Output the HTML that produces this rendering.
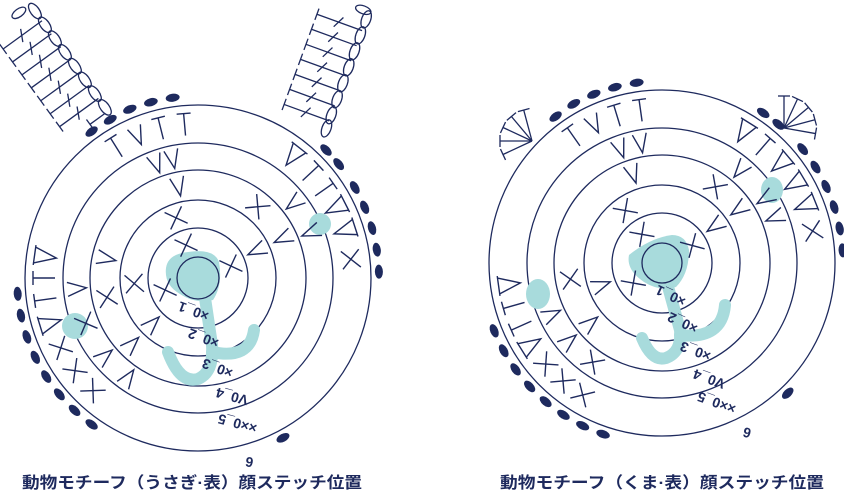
<!DOCTYPE html>
<html><head><meta charset="utf-8"><style>
html,body{margin:0;padding:0;background:#fff}
svg{display:block}
text{font-family:"Liberation Sans","Noto Sans CJK JP",sans-serif;fill:#1e2a5e}
</style></head><body>
<svg width="844" height="492" viewBox="0 0 844 492" xmlns="http://www.w3.org/2000/svg">
<defs>
<g id="x" stroke="#1e2a5e" stroke-width="1.4" fill="none"><line x1="-9" y1="-9" x2="9" y2="9"/><line x1="9" y1="-9" x2="-9" y2="9"/></g>
<g id="v" stroke="#1e2a5e" stroke-width="1.4" fill="none"><polyline points="-7,-10 0,9 7,-10"/></g>
<g id="t" stroke="#1e2a5e" stroke-width="1.4" fill="none"><line x1="0" y1="-11" x2="0" y2="11"/><line x1="-7" y1="-11" x2="7" y2="-11"/></g>
<g id="tri" stroke="#1e2a5e" stroke-width="1.4" fill="none"><polyline points="-8,-11 0,11 8,-11"/><line x1="-10" y1="-11" x2="10" y2="-11"/></g>
<ellipse id="d" rx="7" ry="4" fill="#1e2a5e"/>
<g id="earline" stroke="#1e2a5e" stroke-width="1.3" fill="none"><line x1="0" y1="0" x2="-48" y2="0"/><line x1="-48" y1="-6" x2="-48" y2="6"/><line x1="-22" y1="-6" x2="-28" y2="6"/></g>
<g id="chain"><ellipse rx="4.5" ry="9" fill="none" stroke="#1e2a5e" stroke-width="1.3"/></g>
<g id="ray" stroke="#1e2a5e" stroke-width="1.3"><line x1="0" y1="0" x2="0" y2="-32"/><line x1="-6" y1="-32" x2="6" y2="-32"/></g>
</defs>

<!-- LEFT DIAGRAM -->
<g fill="none" stroke="#1e2a5e" stroke-width="1.3">
<circle cx="198" cy="278" r="50"/><circle cx="198" cy="278" r="78"/><circle cx="198" cy="278" r="108"/><circle cx="198" cy="278" r="135"/><circle cx="198" cy="278" r="173"/>
</g>
<g fill="#a8dbdc">
<path d="M166,268 Q168,254 188,252 Q214,248 219,262 Q223,285 213,300 Q195,304 180,294 Q164,285 166,268Z"/>
<circle cx="75" cy="326" r="13"/><circle cx="320" cy="224" r="11"/>
</g>
<g fill="none" stroke="#a8dbdc" stroke-width="12" stroke-linecap="round">
<path d="M205,298 L212,345 Q214,372 198,379 Q180,384 168,352"/>
<path d="M212,352 Q250,360 254,330"/>
</g>
<circle cx="198" cy="278" r="21" fill="none" stroke="#1e2a5e" stroke-width="1.3"/>
<g>
<use href="#x" transform="rotate(-20 198 278) translate(198 243)"/>
<use href="#x" transform="rotate(70 198 278) translate(198 243)"/>
<use href="#x" transform="rotate(-110 198 278) translate(198 243)"/>
<use href="#x" transform="rotate(-20 198 278) translate(198 214)"/>
<use href="#v" transform="rotate(65 198 278) translate(198 214)"/>
<use href="#x" transform="rotate(-95 198 278) translate(198 214)"/>
<use href="#v" transform="rotate(-135 198 278) translate(198 214)"/>
<use href="#v" transform="rotate(-12 198 278) translate(198 185)"/>
<use href="#x" transform="rotate(40 198 278) translate(198 185)"/>
<use href="#v" transform="rotate(65 198 278) translate(198 185)"/>
<use href="#v" transform="rotate(-78 198 278) translate(198 185)"/>
<use href="#x" transform="rotate(-102 198 278) translate(198 185)"/>
<use href="#v" transform="rotate(-135 198 278) translate(198 185)"/>
<use href="#v" transform="rotate(-20 198 278) translate(198 157)"/>
<use href="#v" transform="rotate(-12 198 278) translate(198 157)"/>
<use href="#v" transform="rotate(52 198 278) translate(198 157)"/>
<use href="#v" transform="rotate(68 198 278) translate(198 157)"/>
<use href="#v" transform="rotate(-95 198 278) translate(198 157)"/>
<use href="#x" transform="rotate(-112 198 278) translate(198 157)"/>
<use href="#v" transform="rotate(-130 198 278) translate(198 157)"/>
<use href="#v" transform="rotate(-145 198 278) translate(198 157)"/>
<use href="#t" transform="rotate(-32 198 278) translate(198 124)"/>
<use href="#v" transform="rotate(-23 198 278) translate(198 124)"/>
<use href="#t" transform="rotate(-14 198 278) translate(198 124)"/>
<use href="#t" transform="rotate(-5 198 278) translate(198 124)"/>
<use href="#tri" transform="rotate(38 198 278) translate(198 124)"/>
<use href="#t" transform="rotate(47 198 278) translate(198 124)"/>
<use href="#t" transform="rotate(55 198 278) translate(198 124)"/>
<use href="#tri" transform="rotate(63 198 278) translate(198 124)"/>
<use href="#tri" transform="rotate(72 198 278) translate(198 124)"/>
<use href="#x" transform="rotate(83 198 278) translate(198 124)"/>
<use href="#tri" transform="rotate(-82 198 278) translate(198 124)"/>
<use href="#t" transform="rotate(-90 198 278) translate(198 124)"/>
<use href="#t" transform="rotate(-98 198 278) translate(198 124)"/>
<use href="#tri" transform="rotate(-107 198 278) translate(198 124)"/>
<use href="#x" transform="rotate(-117 198 278) translate(198 124)"/>
<use href="#x" transform="rotate(-127 198 278) translate(198 124)"/>
<use href="#x" transform="rotate(-137 198 278) translate(198 124)"/>
</g>
<g>
<use href="#d" transform="rotate(-36 198 278) translate(198 97)"/>
<use href="#d" transform="rotate(-29 198 278) translate(198 97)"/>
<use href="#d" transform="rotate(-22 198 278) translate(198 96)"/>
<use href="#d" transform="rotate(-15 198 278) translate(198 96)"/>
<use href="#d" transform="rotate(-8 198 278) translate(198 96)"/>
<use href="#d" transform="rotate(45 198 278) translate(198 97)"/>
<use href="#d" transform="rotate(51 198 278) translate(198 97)"/>
<use href="#d" transform="rotate(60 198 278) translate(198 97)"/>
<use href="#d" transform="rotate(67 198 278) translate(198 97)"/>
<use href="#d" transform="rotate(74 198 278) translate(198 97)"/>
<use href="#d" transform="rotate(81 198 278) translate(198 97)"/>
<use href="#d" transform="rotate(88 198 278) translate(198 97)"/>
<use href="#d" transform="rotate(-95 198 278) translate(198 97)"/>
<use href="#d" transform="rotate(-102 198 278) translate(198 97)"/>
<use href="#d" transform="rotate(-109 198 278) translate(198 97)"/>
<use href="#d" transform="rotate(-116 198 278) translate(198 97)"/>
<use href="#d" transform="rotate(-123 198 278) translate(198 97)"/>
<use href="#d" transform="rotate(-130 198 278) translate(198 97)"/>
<use href="#d" transform="rotate(-137 198 278) translate(198 97)"/>
<use href="#d" transform="rotate(-144 198 278) translate(198 97)"/>
<use href="#d" transform="rotate(152 198 278) translate(198 97)"/>
</g>
<g font-size="14" font-weight="bold">
<text transform="translate(210,312) rotate(200)">×0_1</text>
<text transform="translate(220,339) rotate(200)">×0_2</text>
<text transform="translate(234,369) rotate(200)">×0_3</text>
<text transform="translate(249,396) rotate(195)">V0_4</text>
<text transform="translate(258,424) rotate(195)">××0_5</text>
<text transform="translate(254,458) rotate(190)">6</text>
</g>
<!-- left ears -->
<g transform="translate(69 58) rotate(-36)">
<use href="#chain" y="-58"/><use href="#chain" y="-41"/><use href="#chain" y="-24"/><use href="#chain" y="-7"/><use href="#chain" y="10"/><use href="#chain" y="27"/><use href="#chain" y="44"/><use href="#chain" y="61"/>
<ellipse cx="-14" cy="-66" rx="8" ry="4" fill="none" stroke="#1e2a5e" stroke-width="1.3"/>
<use href="#earline" y="-46"/><use href="#earline" y="-30"/><use href="#earline" y="-14"/><use href="#earline" y="2"/><use href="#earline" y="18"/><use href="#earline" y="34"/><use href="#earline" y="50"/>
<g stroke="#1e2a5e" stroke-width="1.3"><line x1="-4" y1="66" x2="-22" y2="66"/><line x1="-22" y1="60" x2="-22" y2="72"/></g>
</g>
<g transform="translate(347 72) rotate(20)">
<use href="#chain" y="-56"/><use href="#chain" y="-39"/><use href="#chain" y="-22"/><use href="#chain" y="-5"/><use href="#chain" y="12"/><use href="#chain" y="29"/><use href="#chain" y="46"/><use href="#chain" y="60"/>
<ellipse cx="-6" cy="-64" rx="8" ry="4" fill="none" stroke="#1e2a5e" stroke-width="1.3"/>
<use href="#earline" y="-44"/><use href="#earline" y="-28"/><use href="#earline" y="-12"/><use href="#earline" y="4"/><use href="#earline" y="20"/><use href="#earline" y="36"/><use href="#earline" y="52"/>
</g>

<!-- RIGHT DIAGRAM -->
<g fill="none" stroke="#1e2a5e" stroke-width="1.3">
<circle cx="662" cy="263" r="50"/><circle cx="662" cy="263" r="78"/><circle cx="662" cy="263" r="108"/><circle cx="662" cy="263" r="135"/><circle cx="662" cy="263" r="173"/>
</g>
<g fill="#a8dbdc">
<path d="M629,255 Q650,238 672,235 Q686,235 689,250 Q689,274 676,287 Q660,292 644,282 Q626,270 629,255Z"/>
<ellipse cx="538" cy="294" rx="12" ry="15"/><ellipse cx="772" cy="190" rx="11" ry="13"/>
</g>
<g fill="none" stroke="#a8dbdc" stroke-width="12" stroke-linecap="round">
<path d="M667,283 L680,330 Q682,352 666,358 Q652,362 642,338"/>
<path d="M680,335 Q722,340 725,305"/>
</g>
<circle cx="662" cy="263" r="20" fill="none" stroke="#1e2a5e" stroke-width="1.3"/>
<g>
<use href="#x" transform="rotate(-35 662 263) translate(662 228)"/>
<use href="#x" transform="rotate(60 662 263) translate(662 228)"/>
<use href="#x" transform="rotate(-125 662 263) translate(662 228)"/>
<use href="#x" transform="rotate(-35 662 263) translate(662 199)"/>
<use href="#v" transform="rotate(55 662 263) translate(662 199)"/>
<use href="#v" transform="rotate(-110 662 263) translate(662 199)"/>
<use href="#v" transform="rotate(-18 662 263) translate(662 170)"/>
<use href="#x" transform="rotate(35 662 263) translate(662 170)"/>
<use href="#v" transform="rotate(55 662 263) translate(662 170)"/>
<use href="#x" transform="rotate(-100 662 263) translate(662 170)"/>
<use href="#v" transform="rotate(-130 662 263) translate(662 170)"/>
<use href="#v" transform="rotate(-20 662 263) translate(662 142)"/>
<use href="#v" transform="rotate(-10 662 263) translate(662 142)"/>
<use href="#v" transform="rotate(40 662 263) translate(662 142)"/>
<use href="#v" transform="rotate(58 662 263) translate(662 142)"/>
<use href="#v" transform="rotate(68 662 263) translate(662 142)"/>
<use href="#v" transform="rotate(-115 662 263) translate(662 142)"/>
<use href="#v" transform="rotate(-130 662 263) translate(662 142)"/>
<use href="#x" transform="rotate(-145 662 263) translate(662 142)"/>
<use href="#t" transform="rotate(-35 662 263) translate(662 109)"/>
<use href="#v" transform="rotate(-26 662 263) translate(662 109)"/>
<use href="#t" transform="rotate(-17 662 263) translate(662 109)"/>
<use href="#t" transform="rotate(-8 662 263) translate(662 109)"/>
<use href="#tri" transform="rotate(32 662 263) translate(662 109)"/>
<use href="#t" transform="rotate(41 662 263) translate(662 109)"/>
<use href="#tri" transform="rotate(50 662 263) translate(662 109)"/>
<use href="#tri" transform="rotate(59 662 263) translate(662 109)"/>
<use href="#tri" transform="rotate(68 662 263) translate(662 109)"/>
<use href="#x" transform="rotate(78 662 263) translate(662 109)"/>
<use href="#tri" transform="rotate(-98 662 263) translate(662 109)"/>
<use href="#t" transform="rotate(-106 662 263) translate(662 109)"/>
<use href="#t" transform="rotate(-114 662 263) translate(662 109)"/>
<use href="#tri" transform="rotate(-122 662 263) translate(662 109)"/>
<use href="#x" transform="rotate(-131 662 263) translate(662 109)"/>
<use href="#x" transform="rotate(-140 662 263) translate(662 109)"/>
<use href="#x" transform="rotate(-149 662 263) translate(662 109)"/>
</g>
<g>
<use href="#d" transform="rotate(-36 662 263) translate(662 82)"/>
<use href="#d" transform="rotate(-29 662 263) translate(662 81)"/>
<use href="#d" transform="rotate(-22 662 263) translate(662 81)"/>
<use href="#d" transform="rotate(-15 662 263) translate(662 81)"/>
<use href="#d" transform="rotate(-8 662 263) translate(662 81)"/>
<use href="#d" transform="rotate(34 662 263) translate(662 82)"/>
<use href="#d" transform="rotate(40 662 263) translate(662 82)"/>
<use href="#d" transform="rotate(51 662 263) translate(662 82)"/>
<use href="#d" transform="rotate(58 662 263) translate(662 82)"/>
<use href="#d" transform="rotate(65 662 263) translate(662 82)"/>
<use href="#d" transform="rotate(72 662 263) translate(662 82)"/>
<use href="#d" transform="rotate(79 662 263) translate(662 82)"/>
<use href="#d" transform="rotate(86 662 263) translate(662 82)"/>
<use href="#d" transform="rotate(-112 662 263) translate(662 82)"/>
<use href="#d" transform="rotate(-119 662 263) translate(662 82)"/>
<use href="#d" transform="rotate(-126 662 263) translate(662 82)"/>
<use href="#d" transform="rotate(-133 662 263) translate(662 82)"/>
<use href="#d" transform="rotate(-140 662 263) translate(662 82)"/>
<use href="#d" transform="rotate(-147 662 263) translate(662 82)"/>
<use href="#d" transform="rotate(-154 662 263) translate(662 82)"/>
<use href="#d" transform="rotate(-161 662 263) translate(662 82)"/>
<use href="#d" transform="rotate(136 662 263) translate(662 82)"/>
</g>
<g font-size="14" font-weight="bold">
<text transform="translate(687,298) rotate(205)">×0_1</text>
<text transform="translate(699,325) rotate(205)">×0_2</text>
<text transform="translate(712,352) rotate(200)">×0_3</text>
<text transform="translate(726,380) rotate(200)">V0_4</text>
<text transform="translate(737,405) rotate(200)">××0_5</text>
<text transform="translate(752,429) rotate(195)">6</text>
</g>
<!-- bear ears -->
<g transform="translate(532 141)">
<use href="#ray" transform="rotate(-15)"/><use href="#ray" transform="rotate(-40)"/><use href="#ray" transform="rotate(-65)"/><use href="#ray" transform="rotate(-90)"/><use href="#ray" transform="rotate(-115)"/>
</g>
<g transform="translate(784 128)">
<use href="#ray" transform="rotate(0)"/><use href="#ray" transform="rotate(25)"/><use href="#ray" transform="rotate(50)"/><use href="#ray" transform="rotate(75)"/><use href="#ray" transform="rotate(100)"/>
</g>

<!-- captions -->
<text x="22" y="488" font-size="16" font-weight="bold" textLength="340" lengthAdjust="spacingAndGlyphs">動物モチーフ（うさぎ·表）顔ステッチ位置</text>
<text x="500" y="488" font-size="16" font-weight="bold" textLength="324" lengthAdjust="spacingAndGlyphs">動物モチーフ（くま·表）顔ステッチ位置</text>
</svg>
</body></html>
